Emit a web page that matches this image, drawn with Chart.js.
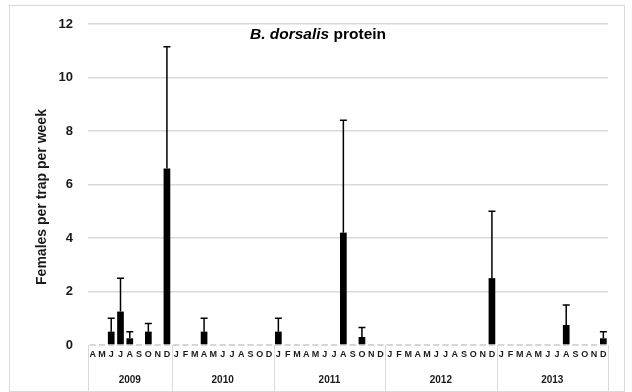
<!DOCTYPE html>
<html>
<head>
<meta charset="utf-8">
<script src="https://cdn.jsdelivr.net/npm/chart.js@4.4.1/dist/chart.umd.min.js"></script>
<style>
    html, body { margin: 0; padding: 0; background: #fff; }
</style>
</head>
<body>
<canvas id="grafico" width="632" height="392"></canvas>
<script>
// Meses por año (2010 no tiene N)
const meses = [
    'A','M','J','J','A','S','O','N','D',
    'J','F','M','A','M','J','J','A','S','O','D',
    'J','F','M','A','M','J','J','A','S','O','N','D',
    'J','F','M','A','M','J','J','A','S','O','N','D',
    'J','F','M','A','M','J','J','A','S','O','N','D'
];
const anios = ['2009', '2010', '2011', '2012', '2013'];
const mesesPorAnio = [9, 11, 12, 12, 12];

// Hembras por trampa por semana (media)
const valores = [
    0, 0, 0.5, 1.25, 0.25, 0, 0.5, 0, 6.6,
    0, 0, 0, 0.5, 0, 0, 0, 0, 0, 0, 0,
    0.5, 0, 0, 0, 0, 0, 0, 4.2, 0, 0.3, 0, 0,
    0, 0, 0, 0, 0, 0, 0, 0, 0, 0, 0, 2.5,
    0, 0, 0, 0, 0, 0, 0, 0.75, 0, 0, 0, 0.25
];
// Barra de error (solo positiva)
const errores = [
    0, 0, 0.5, 1.25, 0.25, 0, 0.3, 0, 4.55,
    0, 0, 0, 0.5, 0, 0, 0, 0, 0, 0, 0,
    0.5, 0, 0, 0, 0, 0, 0, 4.2, 0, 0.35, 0, 0,
    0, 0, 0, 0, 0, 0, 0, 0, 0, 0, 0, 2.5,
    0, 0, 0, 0, 0, 0, 0, 0.75, 0, 0, 0, 0.25
];
const yTicks = [0, 2, 4, 6, 8, 10, 12];
const tituloY = 'Females per trap per week';

const FUENTE = '"Liberation Sans", Arial, sans-serif';
const TEXTO = '#1a1a1a';

const extras = {
    id: 'extras',
    beforeDatasetsDraw(chart) {
        const { ctx, scales: { x, y } } = chart;
        const paso = (x.right - x.left) / meses.length;
        ctx.save();
        // eje x punteado
        ctx.strokeStyle = '#c8c8c8';
        ctx.lineWidth = 1.5;
        meses.forEach((m, i) => {
            const cx = x.getPixelForValue(i);
            ctx.beginPath();
            ctx.moveTo(cx - paso / 2 + 1.5, y.bottom);
            ctx.lineTo(cx + paso / 2 - 1.5, y.bottom);
            ctx.stroke();
        });
        ctx.restore();
    },
    afterDatasetsDraw(chart) {
        const { ctx, scales: { x, y } } = chart;
        const meta = chart.getDatasetMeta(0);
        ctx.save();
        ctx.strokeStyle = '#000';
        ctx.lineWidth = 1.5;
        meta.data.forEach((bar, i) => {
            const e = errores[i];
            if (!e) return;
            const tope = y.getPixelForValue(valores[i] + e);
            ctx.beginPath();
            ctx.moveTo(bar.x, bar.y);
            ctx.lineTo(bar.x, tope);
            ctx.moveTo(bar.x - 3.5, tope);
            ctx.lineTo(bar.x + 3.5, tope);
            ctx.stroke();
        });

        // separadores y etiquetas de años
        const paso = (x.right - x.left) / meses.length;
        ctx.strokeStyle = '#d9d9d9';
        ctx.lineWidth = 1;
        ctx.fillStyle = TEXTO;
        ctx.font = 'bold 10px ' + FUENTE;
        ctx.textAlign = 'center';
        ctx.textBaseline = 'middle';
        let inicio = 0;
        const linea = idx => {
            const px = Math.round(x.getPixelForValue(Math.min(idx, meses.length - 1)) +
                (idx < meses.length ? -paso / 2 : paso / 2)) + 0.5;
            ctx.beginPath();
            ctx.moveTo(px, y.bottom);
            ctx.lineTo(px, 391);
            ctx.stroke();
        };
        linea(0);
        anios.forEach((a, k) => {
            const fin = inicio + mesesPorAnio[k];
            const x0 = x.getPixelForValue(inicio) - paso / 2;
            linea(fin);
            const x1 = x.getPixelForValue(fin - 1) + paso / 2;
            ctx.fillText(a, (x0 + x1) / 2, 380);
            inicio = fin;
        });

        // título del eje y
        ctx.save();
        ctx.translate(42, 197);
        ctx.rotate(-Math.PI / 2);
        ctx.font = 'bold 14px ' + FUENTE;
        ctx.fillText(tituloY, 0, 0);
        ctx.restore();

        // título dentro del gráfico
        ctx.textAlign = 'left';
        ctx.textBaseline = 'alphabetic';
        const parte1 = 'B. dorsalis';
        const parte2 = ' protein';
        ctx.font = 'italic bold 15.5px ' + FUENTE;
        const w1 = ctx.measureText(parte1).width;
        ctx.font = 'bold 15.5px ' + FUENTE;
        const w2 = ctx.measureText(parte2).width;
        const xi = 318 - (w1 + w2) / 2;
        ctx.fillStyle = '#000';
        ctx.font = 'italic bold 15.5px ' + FUENTE;
        ctx.fillText(parte1, xi, 39);
        ctx.font = 'bold 15.5px ' + FUENTE;
        ctx.fillText(parte2, xi + w1, 39);

        // borde del área del gráfico
        ctx.strokeStyle = '#d9d9d9';
        ctx.lineWidth = 1;
        ctx.strokeRect(9.5, 5.5, 615, 386);
        ctx.restore();
    }
};

new Chart(document.getElementById('grafico'), {
    type: 'bar',
    data: {
        labels: meses,
        datasets: [{
            data: valores,
            backgroundColor: '#000',
            barPercentage: 0.72,
            categoryPercentage: 1
        }]
    },
    options: {
        responsive: false,
        animation: false,
        devicePixelRatio: 1,
        layout: { padding: { left: 30, right: 24, top: 24, bottom: 3 } },
        plugins: {
            legend: { display: false },
            tooltip: { enabled: false }
        },
        scales: {
            x: {
                grid: { display: false, drawTicks: false },
                border: { display: false },
                ticks: {
                    autoSkip: false,
                    maxRotation: 0,
                    minRotation: 0,
                    padding: 4,
                    color: TEXTO,
                    font: { family: FUENTE, size: 9, weight: 'bold' }
                },
                afterFit(s) { s.height = 44; }
            },
            y: {
                min: 0,
                max: 12,
                afterBuildTicks(s) { s.ticks = yTicks.map(v => ({ value: v })); },
                grid: {
                    drawTicks: false,
                    color: c => c.tick && c.tick.value === 0 ? 'rgba(0,0,0,0)' : '#d9d9d9',
                    lineWidth: 1.5
                },
                border: { display: false },
                ticks: {
                    padding: 15,
                    color: TEXTO,
                    font: { family: FUENTE, size: 13, weight: 'bold' }
                },
                afterFit(s) { s.width = 58; }
            }
        }
    },
    plugins: [extras]
});
</script>
</body>
</html>
